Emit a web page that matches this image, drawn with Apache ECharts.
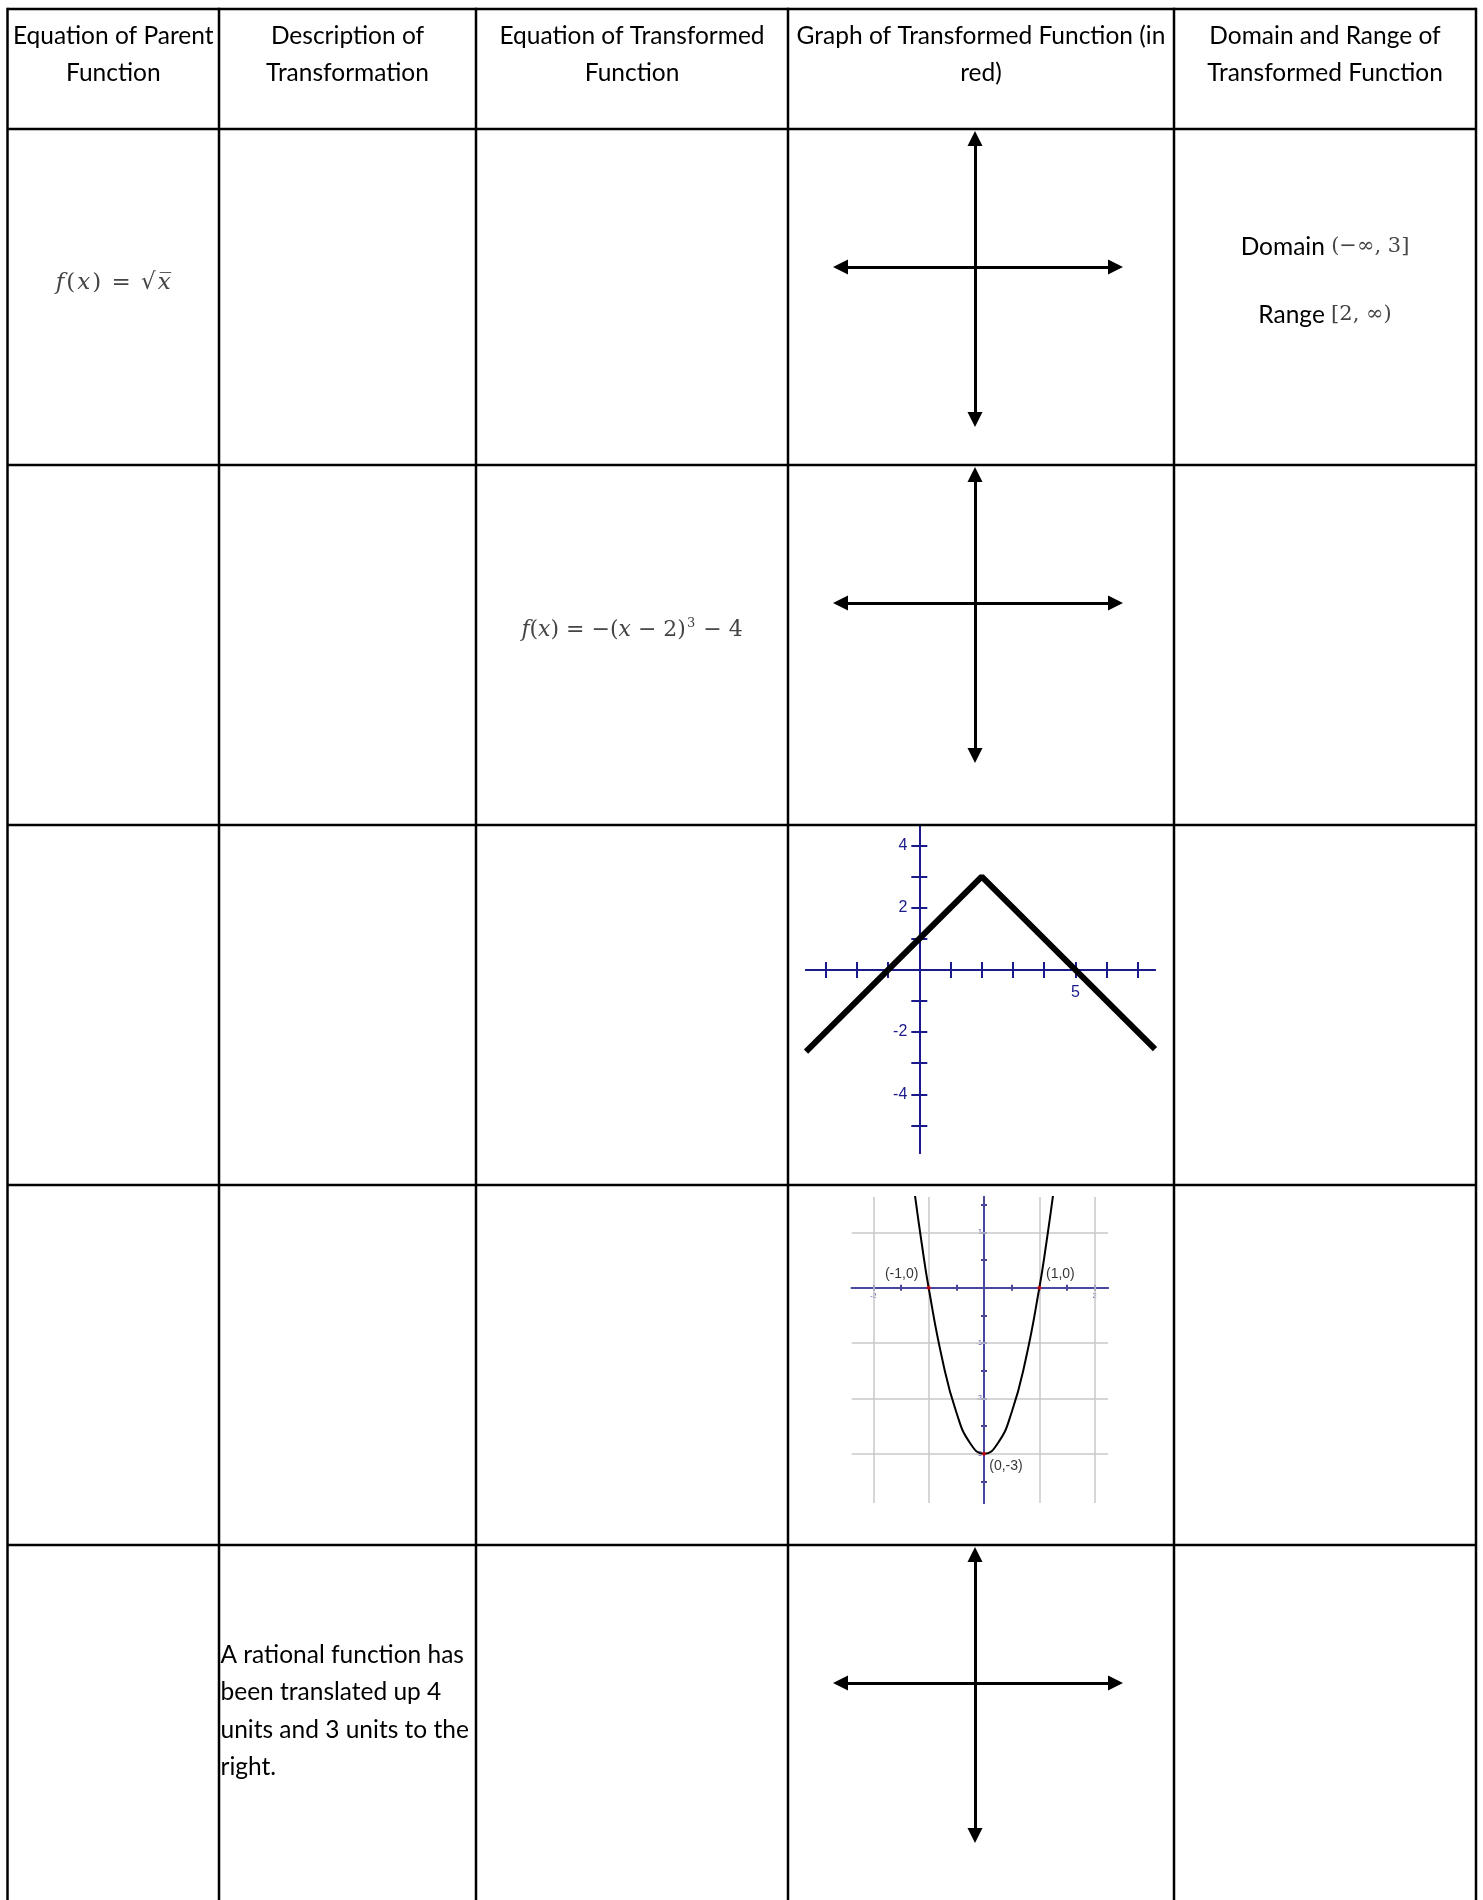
<!DOCTYPE html>
<html><head><meta charset="utf-8">
<script src="https://cdn.jsdelivr.net/npm/echarts@6/dist/echarts.min.js"></script>
<style>html,body{margin:0;padding:0;background:#fff}#c{width:1483px;height:1900px}</style>
</head><body><div id="c"></div>
<script>
// ---------- content ----------
const headers = [
  ["Equation of Parent", "Function"],
  ["Description of", "Transformation"],
  ["Equation of Transformed", "Function"],
  ["Graph of Transformed Function (in", "red)"],
  ["Domain and Range of", "Transformed Function"]
];
const parentEquation = "{i|f}{u|(}{i|x}{u|)}{s| = }{u|√}{i|x̅}";
const transformedEquation = "{j|f}{v|(}{j|x}{v|)}{t2| = }{v|−(}{j|x}{t2| − }{v|2)}{p|3}{t2| − }{v|4}";
const domainLabel = "Domain ";
const domainValue = "(−∞, 3]";
const rangeLabel = "Range ";
const rangeValue = "[2, ∞)";
const descriptionLines = ["A rational function has", "been translated up 4", "units and 3 units to the", "right."];

// Row 3 graph: absolute value function
const absX = [-3.63, 2, 7.55];
const absY = [-2.63, 3, -2.55];
const absXRange = [-3.63, 7.55];
const absYRange = [-5.89, 4.63];
const absXTicks = [-3, -2, -1, 1, 2, 3, 4, 5, 6, 7];
const absXTickLabels = [5];
const absYTicks = [4, 3, 2, 1, -1, -2, -3, -4, -5];
const absYTickLabels = [4, 2, -2, -4];

// Row 4 graph: parabola
const parX = [-1.25, -1.125, -1, -0.75, -0.5, -0.25, 0, 0.25, 0.5, 0.75, 1, 1.125, 1.25];
const parY = [1.69, 0.8, 0, -1.31, -2.25, -2.81, -3, -2.81, -2.25, -1.31, 0, 0.8, 1.69];
const parXRange = [-2.39, 2.24];
const parYRange = [-3.89, 1.64];
const parGridX = [-2, -1, 1, 2];
const parGridY = [1, -1, -2, -3];
const parXTicks = [-2, -1.5, -1, -0.5, 0.5, 1, 1.5, 2];
const parYTicks = [1.5, 1, 0.5, -0.5, -1, -1.5, -2, -2.5, -3, -3.5];
const parXTickLabels = [-2, 2];
const parYTickLabels = [1, -1, -2, -3];
const keyPointX = [-1, 1, 0];
const keyPointY = [0, 0, -3];
const keyPointLabels = ["(-1,0)", "(1,0)", "(0,-3)"];

// empty coordinate planes
const crossXRange = [-134.5, 140.5];
const crossYRange = [-152.5, 128.5];

// ---------- layout ----------
const colX = [7.5, 219, 476, 788, 1174, 1476];
const rowY = [9, 129, 465, 825, 1185, 1545];
const PAGE_H = 1900;
const BODY_FONT = 'Lato';
const MATH_FONT = '"DejaVu Serif"';
const MATH_COLOR = '#444444';
const NAVY = '#1a1a8a';
const SLATE = '#47479f';

const chart = echarts.init(document.getElementById('c'), null, {renderer: 'canvas'});
const graphic = [];

// table lines
colX.forEach(x => graphic.push({type: 'line', shape: {x1: x, y1: rowY[0] - 1.25, x2: x, y2: PAGE_H}, style: {stroke: '#000', lineWidth: 2.5}, z: 100}));
rowY.forEach(y => graphic.push({type: 'line', shape: {x1: colX[0], y1: y, x2: colX[5], y2: y}, style: {stroke: '#000', lineWidth: 2.5}, z: 100}));

// headers
headers.forEach((lines, c) => {
  const cx = (colX[c] + colX[c + 1]) / 2;
  lines.forEach((t, k) => graphic.push({type: 'text', style: {text: t, x: cx, y: 36 + k * 37.5, font: '24.5px ' + BODY_FONT, fill: '#000', textAlign: 'center', textVerticalAlign: 'middle'}}));
});

const mathRich = {
  i: {fontFamily: MATH_FONT, fontStyle: 'italic', fontSize: 23, fill: MATH_COLOR, padding: [0, 1]},
  u: {fontFamily: MATH_FONT, fontSize: 23, fill: MATH_COLOR, padding: [0, 1]},
  s: {fontFamily: MATH_FONT, fontSize: 23, fill: MATH_COLOR, padding: [0, 2]},
  j: {fontFamily: MATH_FONT, fontStyle: 'italic', fontSize: 22, fill: MATH_COLOR},
  v: {fontFamily: MATH_FONT, fontSize: 22, fill: MATH_COLOR},
  t2: {fontFamily: MATH_FONT, fontSize: 22, fill: MATH_COLOR},
  p: {fontFamily: MATH_FONT, fontSize: 13, fill: MATH_COLOR, verticalAlign: 'top', padding: [0, 1, 12, 1]},
  t: {fontFamily: BODY_FONT, fontSize: 24.5, fill: '#000'},
  m: {fontFamily: MATH_FONT, fontSize: 21, fill: MATH_COLOR}
};

// row 1 parent equation
graphic.push({type: 'text', style: {text: parentEquation, rich: mathRich, x: (colX[0] + colX[1]) / 2, y: 283, textAlign: 'center', textVerticalAlign: 'middle'}});
// row 2 transformed equation
graphic.push({type: 'text', style: {text: transformedEquation, rich: mathRich, x: (colX[2] + colX[3]) / 2, y: 630, textAlign: 'center', textVerticalAlign: 'middle'}});
// domain & range
graphic.push({type: 'text', style: {text: '{t|' + domainLabel + '}{m|' + domainValue + '}', rich: mathRich, x: (colX[4] + colX[5]) / 2, y: 247, textAlign: 'center', textVerticalAlign: 'middle'}});
graphic.push({type: 'text', style: {text: '{t|' + rangeLabel + '}{m|' + rangeValue + '}', rich: mathRich, x: (colX[4] + colX[5]) / 2, y: 315, textAlign: 'center', textVerticalAlign: 'middle'}});
// row 5 description
descriptionLines.forEach((t, k) => graphic.push({type: 'text', style: {text: t, x: colX[1] + 1.5, y: 1655 + k * 37.5, font: '24.5px ' + BODY_FONT, fill: '#000', textAlign: 'left', textVerticalAlign: 'middle'}}));

// ---------- grids & axes ----------
const grids = [], xAxes = [], yAxes = [], series = [];

function addCross(rowTop) {
  const gi = grids.length;
  grids.push({left: 840.5, top: rowTop + 9.5, width: 275, height: 281});
  const line = {onZero: true, lineStyle: {color: '#000', width: 3}, symbol: ['triangle', 'triangle'], symbolSize: [15, 15]};
  xAxes.push({gridIndex: gi, type: 'value', min: crossXRange[0], max: crossXRange[1], axisLine: line, axisTick: {show: false}, axisLabel: {show: false}, splitLine: {show: false}});
  yAxes.push({gridIndex: gi, type: 'value', min: crossYRange[0], max: crossYRange[1], axisLine: line, axisTick: {show: false}, axisLabel: {show: false}, splitLine: {show: false}});
}

function addPlot(gridOpt, xr, yr, color, axisW, xTicks, yTicks, xLabels, yLabels, tickLen, labelFont, xMargin, yMargin) {
  const gi = grids.length;
  grids.push(gridOpt);
  const xi = xAxes.length, yi = yAxes.length;
  // axis lines + ticks crossing the zero lines (one set each side)
  [false, true].forEach(inside => {
    xAxes.push({gridIndex: gi, type: 'value', position: 'bottom', min: xr[0], max: xr[1],
      axisLine: {onZero: true, onZeroAxisIndex: yi, lineStyle: {color: color, width: axisW}},
      axisTick: {show: true, inside: inside, length: tickLen, customValues: xTicks, lineStyle: {color: color, width: axisW}},
      axisLabel: {show: false}, splitLine: {show: false}});
    yAxes.push({gridIndex: gi, type: 'value', position: 'left', min: yr[0], max: yr[1],
      axisLine: {onZero: true, onZeroAxisIndex: xi, lineStyle: {color: color, width: axisW}},
      axisTick: {show: true, inside: inside, length: tickLen, customValues: yTicks, lineStyle: {color: color, width: axisW}},
      axisLabel: {show: false}, splitLine: {show: false}});
  });
  // label-only axes shifted onto the zero lines
  const xOff = -(0 - yr[0]) / (yr[1] - yr[0]) * gridOpt.height;
  const yOff = -(0 - xr[0]) / (xr[1] - xr[0]) * gridOpt.width;
  xAxes.push({gridIndex: gi, type: 'value', position: 'bottom', offset: xOff, min: xr[0], max: xr[1],
    axisLine: {show: false, onZero: false}, axisTick: {show: false},
    axisLabel: {show: true, customValues: xLabels, margin: xMargin, color: color, fontFamily: 'Liberation Sans', fontSize: labelFont},
    splitLine: {show: false}});
  yAxes.push({gridIndex: gi, type: 'value', position: 'left', offset: yOff, min: yr[0], max: yr[1],
    axisLine: {show: false, onZero: false}, axisTick: {show: false},
    axisLabel: {show: true, customValues: yLabels, margin: yMargin, color: color, fontFamily: 'Liberation Sans', fontSize: labelFont},
    splitLine: {show: false}});
  return {gi, xi, yi};
}

addCross(rowY[1]);
addCross(rowY[2]);

const abs = addPlot({left: 806, top: 826, width: 349, height: 327}, absXRange, absYRange, NAVY, 2,
  absXTicks, absYTicks, absXTickLabels, absYTickLabels, 8, 16, 15, 12);
series.push({type: 'line', xAxisIndex: abs.xi, yAxisIndex: abs.yi, data: absX.map((x, i) => [x, absY[i]]),
  symbol: 'none', lineStyle: {color: '#000', width: 6}, z: 5});

const par = addPlot({left: 851.7, top: 1197, width: 256.3, height: 306}, parXRange, parYRange, SLATE, 2,
  parXTicks, parYTicks, parXTickLabels, parYTickLabels, 3, 7, 5, 2);
series.push({type: 'line', xAxisIndex: par.xi, yAxisIndex: par.yi, data: [], silent: true, z: -1,
  markLine: {silent: true, symbol: 'none', label: {show: false}, lineStyle: {color: '#c8c8c8', width: 1.5, type: 'solid'},
    data: parGridX.map(v => ({xAxis: v})).concat(parGridY.map(v => ({yAxis: v})))}});
series.push({type: 'line', xAxisIndex: par.xi, yAxisIndex: par.yi, data: parX.map((x, i) => [x, parY[i]]),
  smooth: true, symbol: 'none', lineStyle: {color: '#000', width: 2}, z: 5});
const labelOffsets = [[-27, -14], [21, -14], [22, 12]];
series.push({type: 'scatter', xAxisIndex: par.xi, yAxisIndex: par.yi, symbolSize: 4, itemStyle: {color: '#e00000'}, z: 6,
  data: keyPointX.map((x, i) => ({value: [x, keyPointY[i]], label: {show: true, position: 'inside', offset: labelOffsets[i], formatter: keyPointLabels[i], color: '#000', fontFamily: 'Liberation Sans', fontSize: 14}}))});

addCross(rowY[5]);

chart.setOption({
  animation: false,
  backgroundColor: '#fff',
  grid: grids,
  xAxis: xAxes,
  yAxis: yAxes,
  series: series,
  graphic: graphic
});
</script></body></html>
